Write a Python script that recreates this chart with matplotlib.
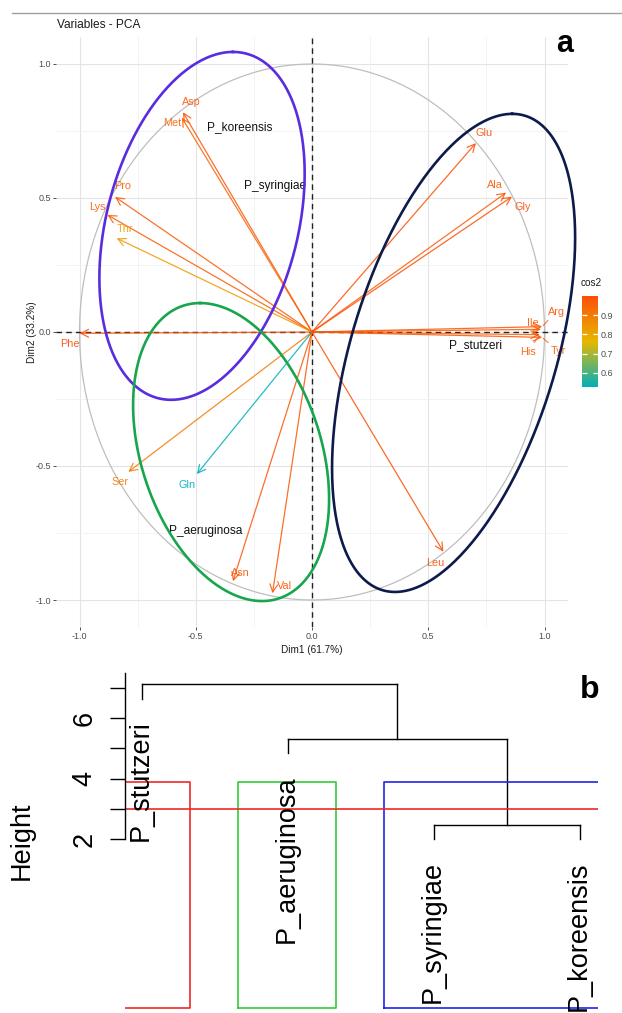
import numpy as np
import matplotlib
matplotlib.use("Agg")
import matplotlib.pyplot as plt
from matplotlib.colors import LinearSegmentedColormap, Normalize
from matplotlib.patches import ArrowStyle
from matplotlib.lines import Line2D
from matplotlib.cm import ScalarMappable

plt.rcParams['font.family'] = ['Liberation Sans', 'DejaVu Sans']
plt.rcParams['axes.unicode_minus'] = False

# --- panel a: PCA variable coordinates ---
VARS = ["Asp", "Met", "Pro", "Lys", "Thr", "Phe", "Ser", "Gln", "Asn", "Val",
        "Leu", "Glu", "Ala", "Gly", "Arg", "Ile", "His", "Tyr"]
DIM1 = [-0.555, -0.56, -0.847, -0.88, -0.84, -1.0, -0.79, -0.495, -0.34, -0.17,
        0.565, 0.705, 0.835, 0.86, 0.99, 0.985, 0.98, 0.99]
DIM2 = [0.82, 0.80, 0.504, 0.437, 0.35, -0.005, -0.522, -0.53, -0.93, -0.975,
        -0.82, 0.705, 0.52, 0.505, 0.02, 0.01, -0.01, -0.02]

GROUPS = ["P_koreensis", "P_syringiae", "P_stutzeri", "P_aeruginosa"]
GROUP_X = [-0.31, -0.16, 0.705, -0.456]
GROUP_Y = [0.765, 0.545, -0.05, -0.743]

# --- panel b: dendrogram ---
LEAVES = ["P_stutzeri", "P_aeruginosa", "P_syringiae", "P_koreensis"]
MERGE = [(-3, -4), (-2, 1), (-1, 2)]   # R style merge matrix
MERGE_H = [2.46, 5.31, 7.12]
CLUSTERS = [(1, 1), (2, 2), (3, 4)]
CUT_H = 3.0

# label offsets in pixels (dx, dy)
LBL_OFF = {"Asp": (8, 10), "Met": (-10, -5), "Pro": (8, 11), "Lys": (-10, 8),
           "Thr": (8, 9), "Phe": (-10, -11), "Ser": (-8, -10), "Gln": (-10, -11),
           "Asn": (7, 8), "Val": (12, 7), "Leu": (-8, -11), "Glu": (8, 10),
           "Ala": (-11, 8), "Gly": (11, -10), "Arg": (14, 15), "Ile": (-8, 6),
           "His": (-12, -17), "Tyr": (16, -14)}
SEGMENT = {"Arg", "His", "Tyr"}

# conjugate-diameter ellipses: center, vec A, vec B, colour
ELLIPSES = [((-0.473, 0.396), (0.133, 0.649), (0.421, 0.0), "#5A2CE0"),
            ((-0.348, -0.448), (-0.133, 0.556), (0.40, 0.0), "#17A64E"),
            ((0.609, -0.078), (0.252, 0.892), (0.458, 0.0), "#0D1A4A")]

W, H = 622, 1013
fig = plt.figure(figsize=(W / 100, H / 100), dpi=100)

# top grey rule and titles
fig.add_artist(Line2D([12 / W, 1], [1 - 13 / H, 1 - 13 / H], color="#A0A0A0", lw=1.0))
fig.text(57 / W, 1 - 25 / H, "Variables - PCA", ha="left", va="center", fontsize=8.6, color="#1A1A1A")
fig.text(565 / W, 1 - 44 / H, "a", ha="center", va="center", fontsize=22, fontweight="bold")
fig.text(590 / W, 1 - 690 / H, "b", ha="center", va="center", fontsize=23, fontweight="bold")

ax = fig.add_axes([56.25 / W, 1 - 626.8 / H, 511.5 / W, 589.6 / H])
ax.set_xlim(-1.1, 1.1)
ax.set_ylim(-1.1, 1.1)
for s in ax.spines.values():
    s.set_visible(False)
ticks = [-1.0, -0.5, 0.0, 0.5, 1.0]
ax.set_xticks(ticks)
ax.set_yticks(ticks)
ax.set_xticklabels(["%.1f" % t for t in ticks])
ax.set_yticklabels(["%.1f" % t for t in ticks])
ax.set_xticks([-0.75, -0.25, 0.25, 0.75], minor=True)
ax.set_yticks([-0.75, -0.25, 0.25, 0.75], minor=True)
ax.grid(which="major", color="#E4E4E4", lw=0.8)
ax.grid(which="minor", color="#F1F1F1", lw=0.6)
ax.tick_params(which="minor", length=0)
ax.tick_params(which="major", length=2.5, width=0.6, color="#333333",
               labelsize=6.5, labelcolor="#4D4D4D", pad=1.5)
ax.set_axisbelow(True)

th = np.linspace(0, 2 * np.pi, 400)
ax.plot(np.cos(th), np.sin(th), color="#BEBEBE", lw=0.9, zorder=1)
ax.axhline(0, color="#222222", lw=1.0, ls=(0, (4, 3)), zorder=2)
ax.axvline(0, color="#222222", lw=1.0, ls=(0, (4, 3)), zorder=2)

cos2 = np.array(DIM1) ** 2 + np.array(DIM2) ** 2
cmap = LinearSegmentedColormap.from_list("g", ["#00AFBB", "#E7B800", "#FC4E07"])
norm = Normalize(cos2.min(), cos2.max())
head = ArrowStyle("->", head_length=0.55, head_width=0.28)
for name, x, y, c2 in zip(VARS, DIM1, DIM2, cos2):
    col = cmap(norm(c2))
    ax.annotate("", xy=(x, y), xytext=(0, 0),
                arrowprops=dict(arrowstyle=head, color=col, lw=0.9, alpha=0.85,
                                shrinkA=0, shrinkB=0, mutation_scale=10), zorder=3)
    dx, dy = LBL_OFF[name]
    kw = {}
    if name in SEGMENT:
        kw["arrowprops"] = dict(arrowstyle="-", color=col, lw=0.7, alpha=0.85,
                                shrinkA=1, shrinkB=1)
    t = ax.annotate(name, xy=(x, y), xytext=(dx, dy), textcoords="offset pixels",
                    ha="center", va="center", fontsize=7.8, color=col, alpha=0.9,
                    zorder=4, **kw)
    t.set_clip_on(True)

for g, gx, gy in zip(GROUPS, GROUP_X, GROUP_Y):
    ax.text(gx, gy, g, ha="center", va="center", fontsize=8.6, color="#111111", zorder=5)

for (cx, cy), (ax_, ay), (bx, by), col in ELLIPSES:
    ex = cx + ax_ * np.cos(th) + bx * np.sin(th)
    ey = cy + ay * np.cos(th) + by * np.sin(th)
    ax.plot(ex, ey, color=col, lw=1.9, zorder=6, clip_on=False)

fig.text(32 / W, 1 - 332 / H, "Dim2 (33.2%)", rotation=90, ha="center", va="center",
         fontsize=7.2, color="#1A1A1A")
fig.text(312 / W, 1 - 650 / H, "Dim1 (61.7%)", ha="center", va="center",
         fontsize=7.2, color="#1A1A1A")

# colorbar
cax = fig.add_axes([582 / W, 1 - 387 / H, 16 / W, 91 / H])
cb = fig.colorbar(ScalarMappable(norm=norm, cmap=cmap), cax=cax)
cb.outline.set_visible(False)
cb.set_ticks([0.6, 0.7, 0.8, 0.9])
cax.tick_params(direction="in", color="white", length=3.5, width=0.9,
                left=True, right=True, labelsize=6.5, labelcolor="#4D4D4D", pad=2)
fig.text(581 / W, 1 - 283 / H, "cos2", ha="left", va="center", fontsize=7.2, color="#1A1A1A")

# --- panel b ---
bx_ = fig.add_axes([124.5 / W, 3 / H, 473 / W, 337 / H])
ylo, yhi = -3.66, 7.5
bx_.set_xlim(0.88, 4.12)
bx_.set_ylim(ylo, yhi)
for s in ["top", "right", "bottom"]:
    bx_.spines[s].set_visible(False)
bx_.spines["left"].set_bounds(2, 7.5)
bx_.spines["left"].set_linewidth(1.0)
bx_.set_xticks([])
bx_.set_yticks([2, 3, 4, 5, 6, 7])
bx_.set_yticklabels(["2", "", "4", "", "6", ""])
bx_.tick_params(axis="y", length=10.5, width=1.0, labelsize=19.5, labelrotation=90, pad=9)
for lab in bx_.get_yticklabels():
    lab.set_va("center")

hang = 0.1 * (max(MERGE_H) - min(MERGE_H))
node_x = {}
for k, ((a, b), h) in enumerate(zip(MERGE, MERGE_H), start=1):
    xs = []
    for ch in (a, b):
        if ch < 0:
            cx, cy = -ch, h - hang
            bx_.annotate(LEAVES[-ch - 1], xy=(cx, cy), xytext=(-1, -22),
                         textcoords="offset pixels", rotation=90, rotation_mode="anchor",
                         ha="right", va="center", fontsize=19.5, annotation_clip=False)
        else:
            cx, cy = node_x[ch]
        bx_.plot([cx, cx], [cy, h], color="black", lw=1.0)
        xs.append(cx)
    bx_.plot(xs, [h, h], color="black", lw=1.0)
    node_x[k] = (np.mean(xs), h)

hs = sorted(MERGE_H, reverse=True)
top = np.mean(hs[1:3])
bot = ylo + 0.06
for (l, r), col in zip(CLUSTERS, ["#F02828", "#33CC33", "#2222E6"]):
    x0, x1 = l - 1 + 0.66, r + 0.33
    bx_.plot([x0, x1, x1, x0, x0], [bot, bot, top, top, bot], color=col, lw=1.2)
bx_.axhline(CUT_H, color="#F02828", lw=1.2)

fig.text(22 / W, 1 - 841 / H, "Height", rotation=90, ha="center", va="center", fontsize=19.5)

fig.savefig("out.png", dpi=100)
